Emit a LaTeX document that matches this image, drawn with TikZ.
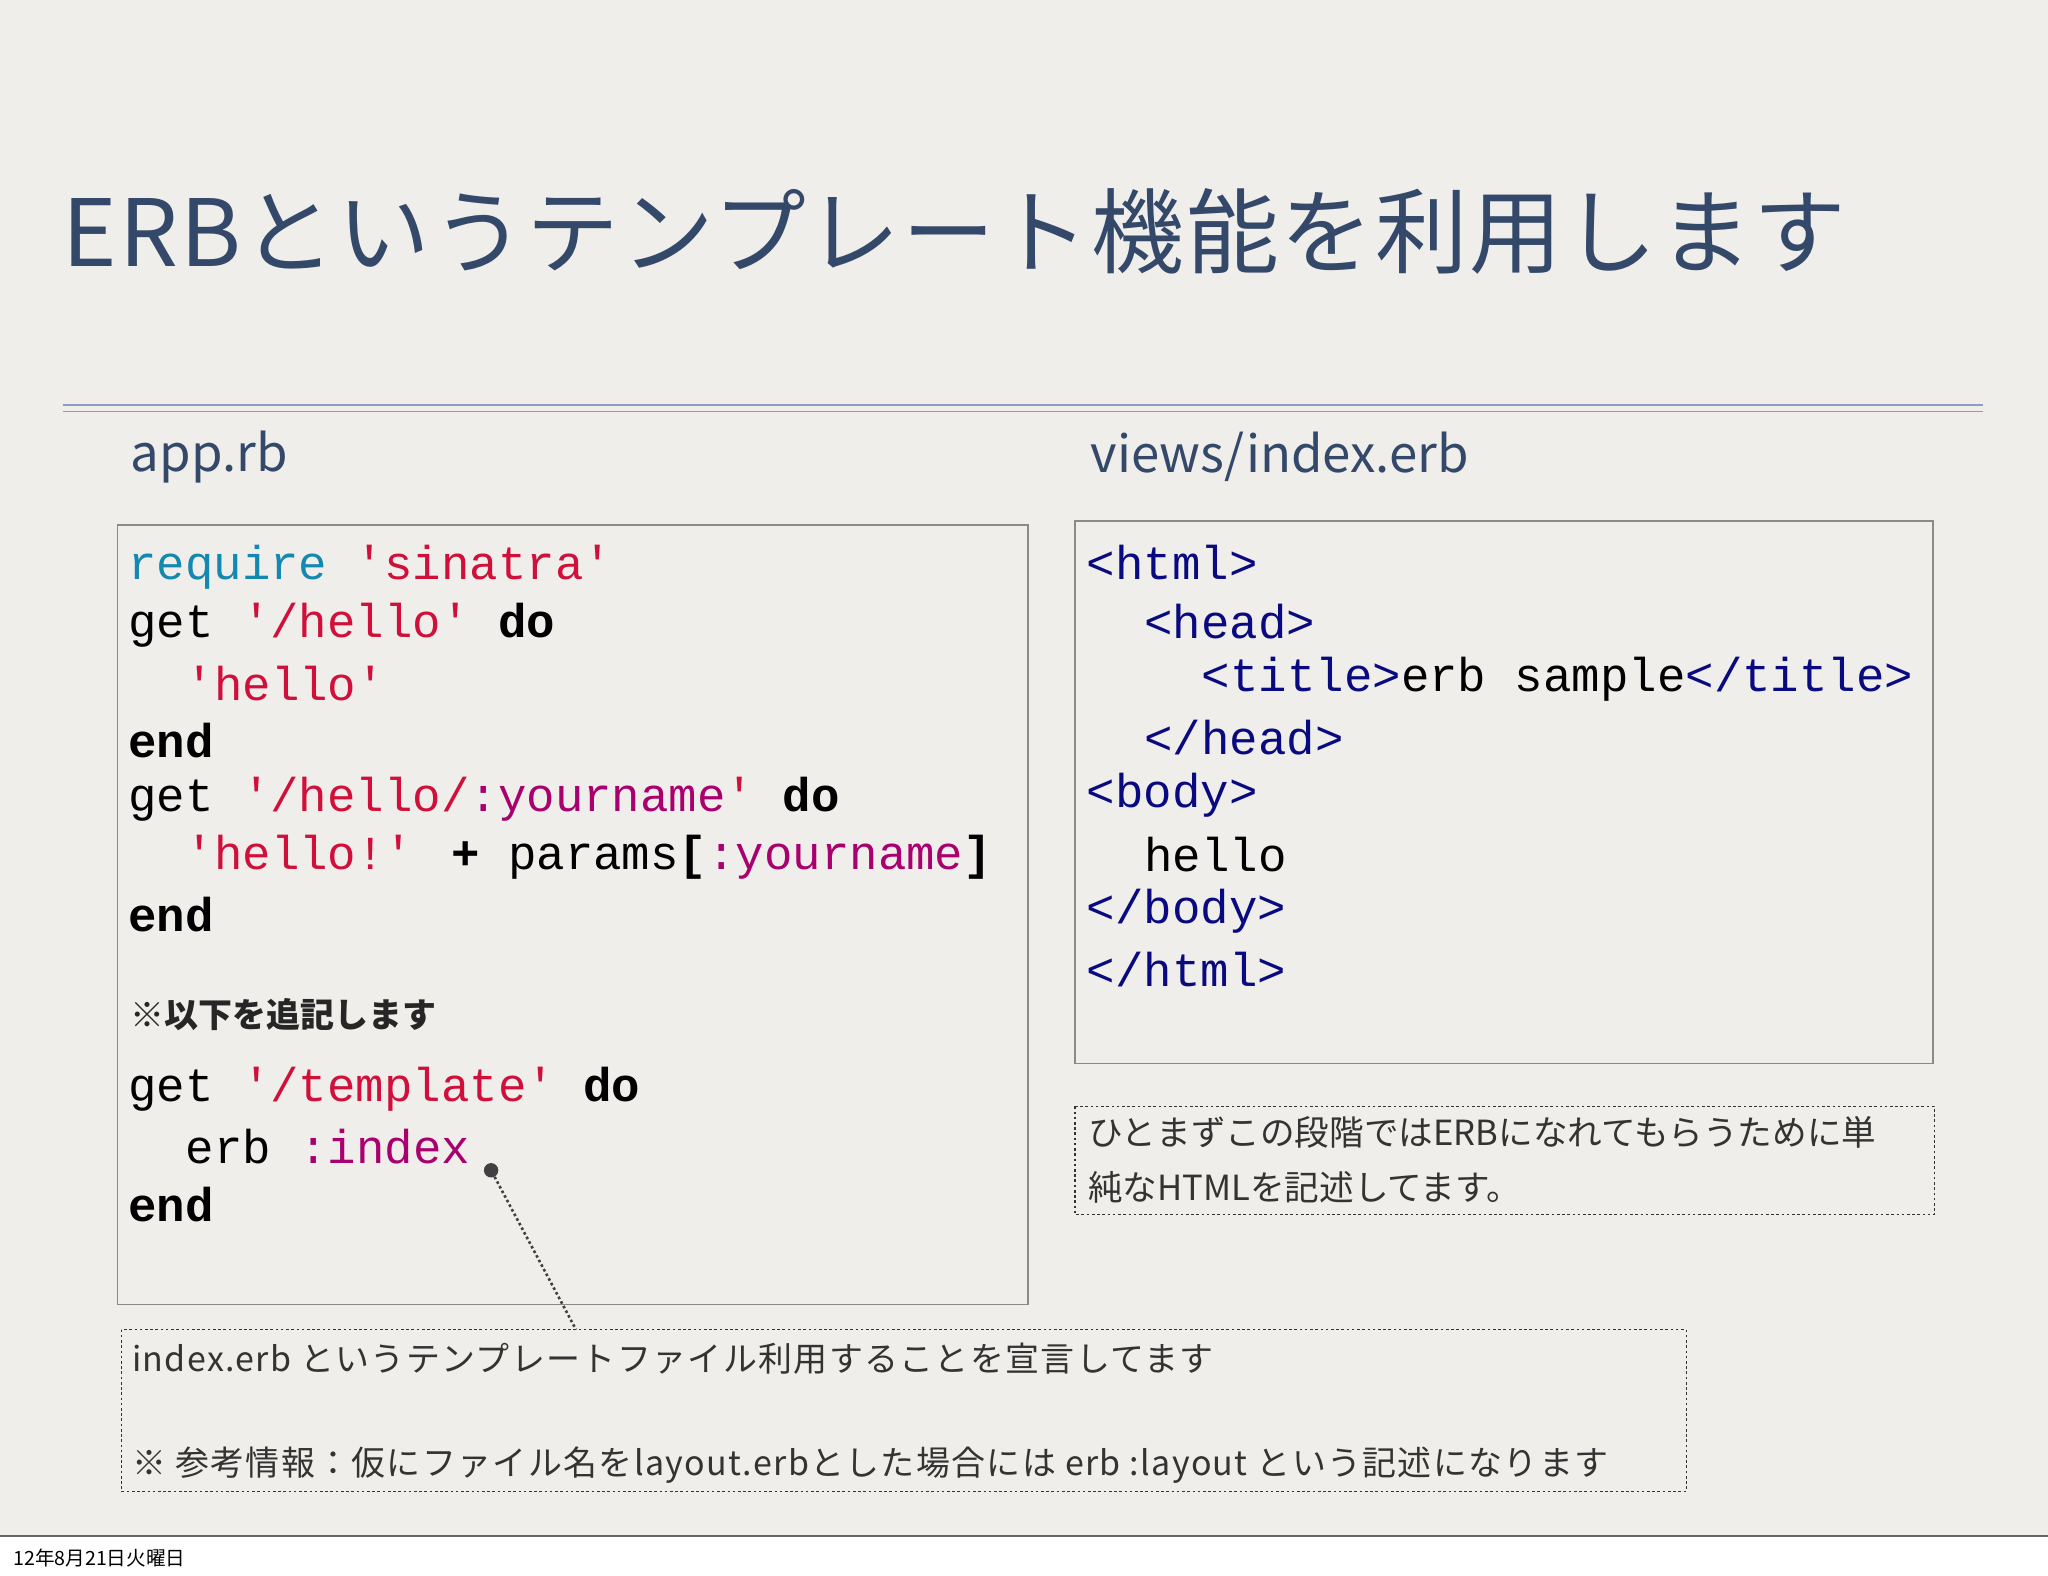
\documentclass[tikz,border=0pt]{standalone}
\usepackage{fontspec}
\setmainfont{Noto Sans CJK JP}
\newfontfamily\jp{Noto Sans CJK JP}
\newfontfamily\jpsp{Noto Sans CJK JP}[LetterSpace=4]
\newfontfamily\jpt{Noto Sans CJK JP}[LetterSpace=2]
\newfontfamily\codefont{Liberation Mono}
\definecolor{bg}{HTML}{F0EEEA}
\definecolor{titleblue}{HTML}{34496A}
\definecolor{rulec}{HTML}{8E9CC4}
\definecolor{kw}{HTML}{1388B0}
\definecolor{str}{HTML}{D0103A}
\definecolor{sym}{HTML}{A8006E}
\definecolor{tag}{HTML}{0A0A80}
\definecolor{boxc}{HTML}{8A8A8A}
\tikzset{
  codeline/.style={anchor=west,inner sep=0pt,font=\codefont\fontsize{36.3}{36}\selectfont},
  note/.style={anchor=west,inner sep=0pt,font=\jpsp\fontsize{26}{26}\selectfont,text=black!80},
  codebox/.style={draw=boxc,line width=1pt},
  notebox/.style={draw=black!80,dashed,dash pattern=on 2pt off 2pt,line width=0.9pt}
}
\newcommand{\K}[1]{\textbf{#1}}
\newcommand{\Sq}[1]{\textcolor{str}{#1}}
\newcommand{\Sy}[1]{\textcolor{sym}{#1}}
\newcommand{\T}[1]{\textcolor{tag}{#1}}
\begin{document}
\begin{tikzpicture}[x=1pt,y=-1pt]
\useasboundingbox (0,0) rectangle (1568,1206);
\fill[white] (0,0) rectangle (1568,1206);
\fill[bg] (0,0) rectangle (1568,1176);
\draw[black!60,line width=0.8pt] (0,1176) -- (1568,1176);
\node[anchor=south west,inner sep=0pt,font=\jp\fontsize{15}{15}\selectfont] (date) at (10,1200) {12年8月21日火曜日};
% title
\node[anchor=base west,inner sep=0pt,text=titleblue,font=\jpt\fontsize{71}{71}\selectfont] (title) at (48,204) {ERBというテンプレート機能を利用します};
\coordinate (r1) at (48,310); \coordinate (r2) at (1518,310);
\draw[rulec,line width=1pt] (r1) -- (r2);
\draw[rulec,line width=1pt] ([yshift=-5pt]r1) -- ([yshift=-5pt]r2);
\node[anchor=west,inner sep=0pt,text=titleblue,font=\jp\fontsize{39}{39}\selectfont] (app) at (100,350) {app.rb};
\node[anchor=west,inner sep=0pt,text=titleblue,font=\jp\fontsize{39}{39}\selectfont] (views) at (835,350) {views/index.erb};
% boxes
\draw[codebox] (90,402) rectangle (787,999);
\draw[codebox] (823,399) rectangle (1480,814);
% left code
\node[codeline] (l1) at (98,434) {\textcolor{kw}{require} \Sq{'sinatra'}};
\node[codeline] (l2) at (98,479) {get \Sq{'/hello'} \K{do}};
\node[codeline] (l3) at (142,523) {\Sq{'hello'}};
\node[codeline] (l4) at (98,567) {\K{end}};
\node[codeline] (l5) at (98,612) {get \Sq{'/hello/\Sy{:yourname}'} \K{do}};
\node[codeline] (l6) at (142,656) {\Sq{'hello!'} \K{+} params\K{[}\Sy{:yourname}\K{]}};
\node[codeline] (l7) at (98,700) {\K{end}};
\node[anchor=west,inner sep=0pt,font=\jp\fontsize{26}{26}\selectfont\bfseries,text=black!85] (add) at (100,777) {※以下を追記します};
\node[codeline] (l8) at (98,834) {get \Sq{'/template'} \K{do}};
\node[codeline] (l9) at (142,878) {erb \Sy{:index}};
\node[codeline] (l10) at (98,922) {\K{end}};
% right code
\node[codeline] (h1) at (832,431) {\T{<html>}};
\node[codeline] (h2) at (876,476) {\T{<head>}};
\node[codeline] (h3) at (920,520) {\T{<title>}erb sample\T{</title>}};
\node[codeline] (h4) at (876,565) {\T{</head>}};
\node[codeline] (h5) at (832,609) {\T{<body>}};
\node[codeline] (h6) at (876,654) {hello};
\node[codeline] (h7) at (832,698) {\T{</body>}};
\node[codeline] (h8) at (832,742) {\T{</html>}};
% right note
\draw[notebox] (823,847) rectangle (1481,930);
\node[note,font=\jp\fontsize{26.5}{26}\selectfont] (n1) at (833,867) {ひとまずこの段階ではERBになれてもらうために単};
\node[note,font=\jp\fontsize{26.5}{26}\selectfont] (n2) at (833,909) {純なHTMLを記述してます。};
% bottom note
\draw[notebox] (93,1018) rectangle (1291,1142);
\coordinate (btop) at (441,1018);
\node[note] (b1) at (101,1040) {index.erb というテンプレートファイル利用することを宣言してます};
\node[note] (b2) at (101,1122) {※ 参考情報：仮にファイル名をlayout.erbとした場合には erb :layout という記述になります};
% pointer
\node[circle,fill=black!75,inner sep=0pt,minimum size=11pt] (dot) at (376,896) {};
\draw[black!75,dotted,line width=2pt] (dot) -- (btop);
\end{tikzpicture}
\end{document}
